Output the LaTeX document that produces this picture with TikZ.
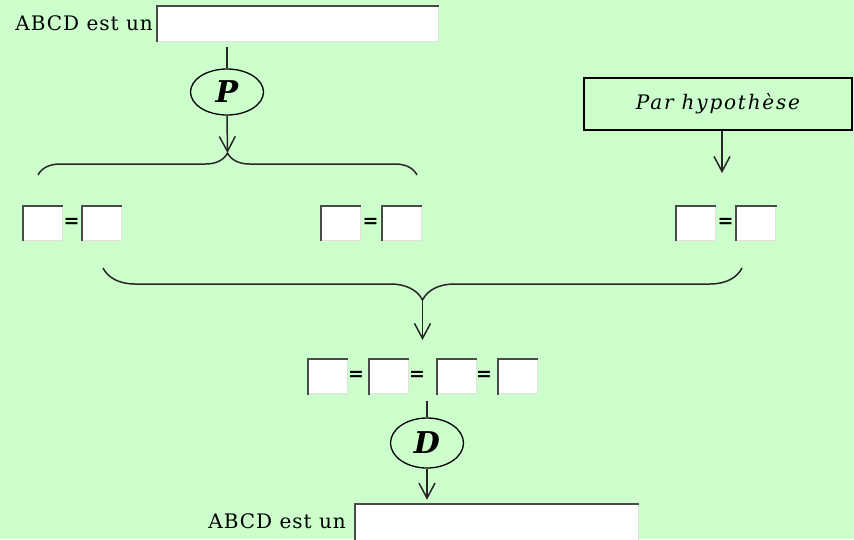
\documentclass[tikz,border=0pt]{standalone}
\usepackage{fontspec}
\setmainfont{DejaVu Serif}
\usepackage{tikz}
\usetikzlibrary{positioning,arrows.meta,shapes.geometric,decorations.pathreplacing}
\definecolor{bggreen}{HTML}{CCFFCC}
\definecolor{edgegray}{HTML}{4A4A4A}
\tikzset{
  flowline/.style={line width=1.5pt, draw=black!85},
  flowarrow/.style={flowline, -{Straight Barb[length=15pt,width=16pt]}},
  field/.style={draw=black!12, fill=white, inner sep=0pt, line width=0.6pt},
  eqbox/.style={field, minimum width=40pt, minimum height=35pt},
  eqsign/.style={font=\fontsize{19}{19}\selectfont\bfseries, inner sep=0pt},
  rulenode/.style={draw, ellipse, line width=1.3pt, minimum width=73pt, minimum height=46pt, inner sep=0pt, font=\fontsize{30}{30}\selectfont\bfseries\itshape},
  hypbox/.style={draw, line width=1.6pt, minimum width=268pt, minimum height=52pt, font=\fontsize{20}{24}\selectfont\itshape\addfontfeatures{LetterSpace=9}},
  plaintext/.style={font=\fontsize{20}{24}\selectfont\addfontfeatures{LetterSpace=5}, inner sep=0pt},
  bracestyle/.style={flowline, decorate}
}

\begin{document}
\begin{tikzpicture}[x=1pt, y=-1pt]
  \fill[bggreen] (0,0) rectangle (854,539);
  \useasboundingbox (0,0) rectangle (854,539);

  % first conclusion field
  \node[plaintext, anchor=east] (toptext) at (153,23) {ABCD est un};
  \node[field, minimum width=282pt, minimum height=36pt] (topfield) at (297,23) {};
  \node[rulenode] (P) at (227,92) {P};

  % hypothesis
  \node[hypbox] (hyp) at (718,104) {Par hypothèse};
  \coordinate (hypin) at (722,173);

  % first row of equalities
  \node[eqbox] (a1) at (42,222.5) {};
  \node[eqsign] (ea) at (71.5,222.5) {=};
  \node[eqbox] (a2) at (101,222.5) {};
  \node[eqbox] (b1) at (340,222.5) {};
  \node[eqsign] (eb) at (370.5,222.5) {=};
  \node[eqbox] (b2) at (401,222.5) {};
  \node[eqbox] (c1) at (695,222.5) {};
  \node[eqsign] (ec) at (725.5,222.5) {=};
  \node[eqbox] (c2) at (755.5,222.5) {};

  % second row
  \node[eqbox] (d1) at (327,376) {};
  \node[eqsign] (ed1) at (356,376) {=};
  \node[eqbox] (d2) at (388,376) {};
  \node[eqsign] (ed2) at (417,376) {=};
  \node[eqbox] (d3) at (456,376) {};
  \node[eqsign] (ed3) at (484,376) {=};
  \node[eqbox] (d4) at (517,376) {};
  \node[rulenode, minimum height=50pt] (D) at (427,443) {D};

  % final conclusion field
  \node[plaintext, anchor=east] (bottext) at (346,521) {ABCD est un};
  \node[field, minimum width=284pt, minimum height=44pt] (botfield) at (496,525) {};

  % sunken edges of the fields
  \foreach \f in {topfield,botfield,a1,a2,b1,b2,c1,c2,d1,d2,d3,d4}
    \draw[edgegray, line width=2pt, line cap=rect]
      ([xshift=1pt]\f.south west) -- ([xshift=1pt,yshift=-1pt]\f.north west) -- ([yshift=-1pt]\f.north east);

  % braces
  \coordinate (braceAl) at (38,175);
  \coordinate (braceAr) at (417,175);
  \coordinate (tipA) at (227.5,153);
  \coordinate (braceBl) at (103,268);
  \coordinate (braceBr) at (742,268);
  \coordinate (tipB) at (422.5,300);
  \coordinate (rowin) at (422.5,340);
  \draw[bracestyle, decoration={brace, amplitude=22pt}] (braceAl) -- (braceAr);
  \draw[bracestyle, decoration={brace, amplitude=32pt}] (braceBr) -- (braceBl);

  % connectors
  \draw[flowline, shorten >=6pt] (P.north) -- (topfield.south -| P.north);
  \draw[flowarrow] (P.south) -- (tipA);
  \draw[flowarrow] (hyp.south -| hypin) -- (hypin);
  \draw[flowarrow] (tipB) -- (rowin);
  \draw[flowline, shorten >=7pt] (D.north) -- (d2.south -| D.north);
  \draw[flowarrow, shorten >=3pt] (D.south) -- (botfield.north -| D.south);
\end{tikzpicture}
\end{document}
